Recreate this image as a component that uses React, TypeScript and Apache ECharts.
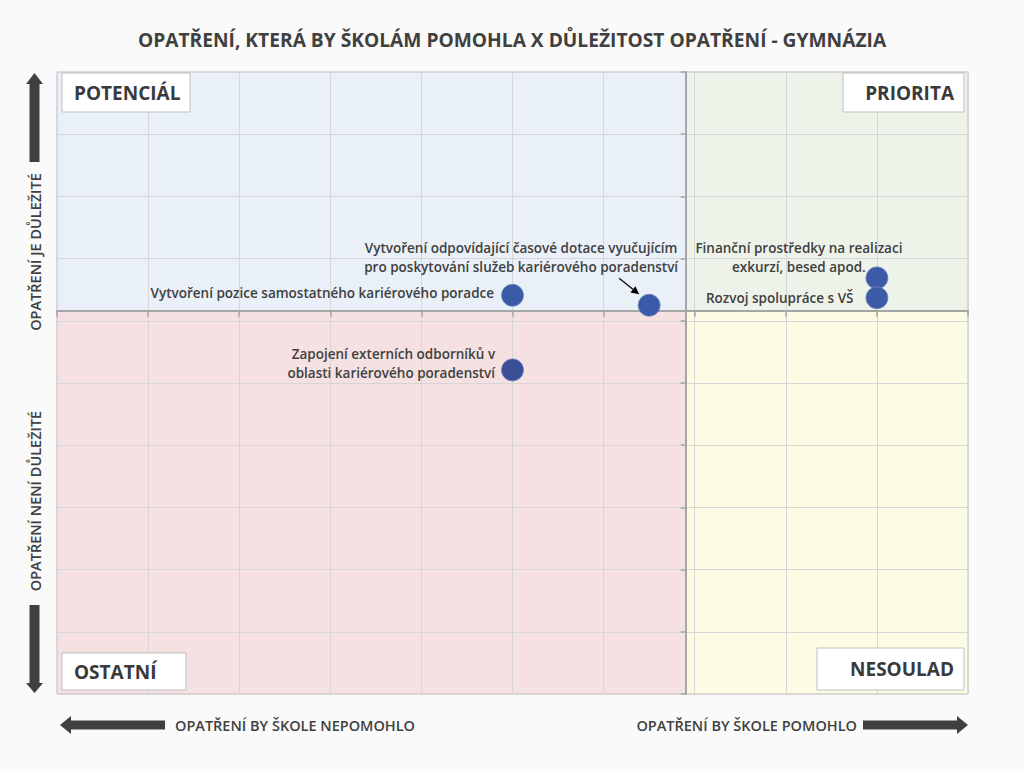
import React, { useEffect, useRef } from "react";
import * as echarts from "echarts";

// ---- data (natural units: both axes 0..10, 10 grid intervals) ----
const TITLE = "OPATŘENÍ, KTERÁ BY ŠKOLÁM POMOHLA X DŮLEŽITOST OPATŘENÍ - GYMNÁZIA";
const pointNames = [
  "Vytvoření pozice samostatného kariérového poradce",
  "Vytvoření odpovídající časové dotace vyučujícím\npro poskytování služeb kariérového poradenství",
  "Finanční prostředky na realizaci\nexkurzí, besed apod.",
  "Rozvoj spolupráce s VŠ",
  "Zapojení externích odborníků v\noblasti kariérového poradenství",
];
const xValues = [5.0, 6.5, 9.0, 9.0, 5.0];
const yValues = [6.41, 6.25, 6.69, 6.37, 5.21];
const X_RANGE = [0, 10];
const Y_RANGE = [0, 10];
const X_CROSS = 6.9;
const Y_CROSS = 6.16;
const quadrantNames = ["POTENCIÁL", "PRIORITA", "OSTATNÍ", "NESOULAD"];
const axisTitles = [
  "OPATŘENÍ JE DŮLEŽITÉ",
  "OPATŘENÍ NENÍ DŮLEŽITÉ",
  "OPATŘENÍ BY ŠKOLE NEPOMOHLO",
  "OPATŘENÍ BY ŠKOLE POMOHLO",
];

const SCALE = 100;
const sx = (v: number) => Math.round((v - X_CROSS) * SCALE);
const sy = (v: number) => Math.round((v - Y_CROSS) * SCALE);

const FONT = "Open Sans";
const TEXT = "#404040";

const labelCfg = [
  { position: "left", distance: 7, offset: [0, -2], align: "right" },
  { position: "top", distance: 5, offset: [-128, -12], align: "center" },
  { position: "top", distance: 5, offset: [-78, 15], align: "center" },
  { position: "left", distance: 12, offset: [0, 0], align: "right" },
  { position: "left", distance: 6, offset: [0, -6], align: "right" },
];
const pointColors = ["#3b5ba8", "#3b5ba8", "#3b5ba8", "#3b5ba8", "#394e97"];

export default function App() {
  const ref = useRef<HTMLDivElement>(null);
  useEffect(() => {
    if (!ref.current) return;
    const chart = echarts.init(ref.current, null, { renderer: "svg" });

    const data = xValues.map((x, i) => ({
      name: pointNames[i],
      value: [sx(x), sy(yValues[i])],
      itemStyle: { color: pointColors[i] },
      label: {
        show: true,
        formatter: pointNames[i],
        position: labelCfg[i].position,
        distance: labelCfg[i].distance,
        offset: labelCfg[i].offset,
        align: labelCfg[i].align,
        color: TEXT,
        fontFamily: FONT,
        fontWeight: 600,
        fontSize: 13.5,
        lineHeight: 19,
      },
    }));

    const xmin = sx(X_RANGE[0]);
    const xmax = sx(X_RANGE[1]);
    const ymin = sy(Y_RANGE[0]);
    const ymax = sy(Y_RANGE[1]);

    const option: any = {
      animation: false,
      backgroundColor: "#fafafa",
      title: {
        text: TITLE,
        left: "center",
        top: 25,
        textStyle: { color: TEXT, fontFamily: FONT, fontWeight: "bold", fontSize: 19.2 },
      },
      grid: { left: 57, right: 56, top: 72, bottom: 77, show: true, borderColor: "#d0d0d0", borderWidth: 1, backgroundColor: "transparent" },
      xAxis: {
        type: "value",
        min: xmin,
        max: xmax,
        interval: SCALE,
        z: 3,
        axisLine: { show: true, onZero: true, lineStyle: { color: "#a6a6a6", width: 2 } },
        axisTick: { show: true, length: 6, lineStyle: { color: "#a6a6a6", width: 1.5 } },
        axisLabel: { show: false },
        splitLine: { show: true, lineStyle: { color: "#d6d6d6", width: 1 } },
      },
      yAxis: {
        type: "value",
        min: ymin,
        max: ymax,
        interval: SCALE,
        z: 3,
        axisLine: { show: true, onZero: true, lineStyle: { color: "#a6a6a6", width: 2 } },
        axisTick: { show: true, length: 5, lineStyle: { color: "#a6a6a6", width: 1.5 } },
        axisLabel: { show: false },
        splitLine: { show: true, lineStyle: { color: "#d6d6d6", width: 1 } },
      },
      series: [
        {
          type: "scatter",
          z: -2,
          silent: true,
          symbolSize: 0,
          data: [[0, 0]],
          markArea: {
            silent: true,
            z: -2,
            data: [
              [
                { xAxis: xmin, yAxis: 0, itemStyle: { color: "#e9f0f8", borderColor: "#c9d3e0", borderWidth: 1 } },
                { xAxis: 0, yAxis: ymax },
              ],
              [
                { xAxis: 0, yAxis: 0, itemStyle: { color: "#eef3e9", borderColor: "#c9d3c0", borderWidth: 1 } },
                { xAxis: xmax, yAxis: ymax },
              ],
              [
                { xAxis: xmin, yAxis: ymin, itemStyle: { color: "#f5e0e2", borderColor: "#dcc2c5", borderWidth: 1 } },
                { xAxis: 0, yAxis: 0 },
              ],
              [
                { xAxis: 0, yAxis: ymin, itemStyle: { color: "#fcfbe3", borderColor: "#d6d4a8", borderWidth: 1 } },
                { xAxis: xmax, yAxis: 0 },
              ],
            ],
          },
        },
        {
          type: "scatter",
          z: 5,
          symbolSize: 22,
          itemStyle: { opacity: 1, borderColor: "#6f86bf", borderWidth: 0.8 },
          data,
        },
      ],
    };

    chart.setOption(option);

    const box = (
      id: string,
      x: number,
      y: number,
      w: number,
      h: number,
      text: string,
      alignRight: boolean
    ) => [
      {
        type: "rect",
        id: id + "-r",
        z: 10,
        shape: { x, y, width: w, height: h },
        style: { fill: "#ffffff", stroke: "#bfbfbf", lineWidth: 1 },
      },
      {
        type: "text",
        id: id + "-t",
        z: 11,
        x: alignRight ? x + w - 10 : x + 12,
        y: y + h / 2,
        style: {
          text,
          fill: "#3a3a3a",
          font: `bold 19px "${FONT}"`,
          textAlign: alignRight ? "right" : "left",
          textVerticalAlign: "middle",
        },
      },
    ];

    const arrowFill = "#404040";
    const graphics: any[] = [
      ...box("b1", 62, 73, 128, 39, quadrantNames[0], false),
      ...box("b2", 843, 73, 121, 39, quadrantNames[1], true),
      ...box("b3", 62, 653, 124, 37, quadrantNames[2], false),
      ...box("b4", 817, 648, 147, 42, quadrantNames[3], true),
      {
        type: "polygon",
        id: "a-up",
        shape: {
          points: [
            [34.5, 73], [43, 84], [39.5, 84], [39.5, 162], [29.5, 162], [29.5, 84], [26, 84],
          ],
        },
        style: { fill: arrowFill },
      },
      {
        type: "polygon",
        id: "a-down",
        shape: {
          points: [
            [29.5, 605], [39.5, 605], [39.5, 683], [43, 683], [34.5, 693], [26, 683], [29.5, 683],
          ],
        },
        style: { fill: arrowFill },
      },
      {
        type: "polygon",
        id: "a-left",
        shape: {
          points: [
            [60, 725], [71, 716], [71, 720.5], [165, 720.5], [165, 729.5], [71, 729.5], [71, 734],
          ],
        },
        style: { fill: arrowFill },
      },
      {
        type: "polygon",
        id: "a-right",
        shape: {
          points: [
            [863, 720.5], [957, 720.5], [957, 716], [968, 725], [957, 734], [957, 729.5], [863, 729.5],
          ],
        },
        style: { fill: arrowFill },
      },
      {
        type: "text",
        id: "t-up",
        x: 35,
        y: 252,
        rotation: Math.PI / 2,
        style: {
          text: axisTitles[0],
          fill: TEXT,
          font: `600 14.5px "${FONT}"`,
          textAlign: "center",
          textVerticalAlign: "middle",
        },
      },
      {
        type: "text",
        id: "t-down",
        x: 35,
        y: 501,
        rotation: Math.PI / 2,
        style: {
          text: axisTitles[1],
          fill: TEXT,
          font: `600 14.5px "${FONT}"`,
          textAlign: "center",
          textVerticalAlign: "middle",
        },
      },
      {
        type: "text",
        id: "t-left",
        x: 175,
        y: 725,
        style: {
          text: axisTitles[2],
          fill: TEXT,
          font: `600 14.5px "${FONT}"`,
          textAlign: "left",
          textVerticalAlign: "middle",
        },
      },
      {
        type: "text",
        id: "t-right",
        x: 857,
        y: 725,
        style: {
          text: axisTitles[3],
          fill: TEXT,
          font: `600 14.5px "${FONT}"`,
          textAlign: "right",
          textVerticalAlign: "middle",
        },
      },
    ];

    // annotation arrow pointing at the second point
    const p = chart.convertToPixel({ gridIndex: 0 }, data[1].value) as number[];
    if (p && isFinite(p[0]) && isFinite(p[1])) {
      const start = [p[0] - 30, p[1] - 27];
      const end = [p[0] - 10, p[1] - 11];
      const ang = Math.atan2(end[1] - start[1], end[0] - start[0]);
      const hl = 8, hw = 4;
      const bx = end[0] - hl * Math.cos(ang);
      const by = end[1] - hl * Math.sin(ang);
      const nx = -Math.sin(ang), ny = Math.cos(ang);
      graphics.push(
        {
          type: "line",
          id: "ann-line",
          z: 10,
          shape: { x1: start[0], y1: start[1], x2: bx, y2: by },
          style: { stroke: "#000000", lineWidth: 1.2 },
        },
        {
          type: "polygon",
          id: "ann-head",
          z: 10,
          shape: {
            points: [
              [end[0], end[1]],
              [bx + nx * hw, by + ny * hw],
              [bx - nx * hw, by - ny * hw],
            ],
          },
          style: { fill: "#000000" },
        }
      );
    }
    chart.setOption({ graphic: { elements: graphics } });

    return () => chart.dispose();
  }, []);

  return (
    <div
      ref={ref}
      style={{ position: "absolute", left: 0, top: 0, width: 1024, height: 771 }}
    />
  );
}
